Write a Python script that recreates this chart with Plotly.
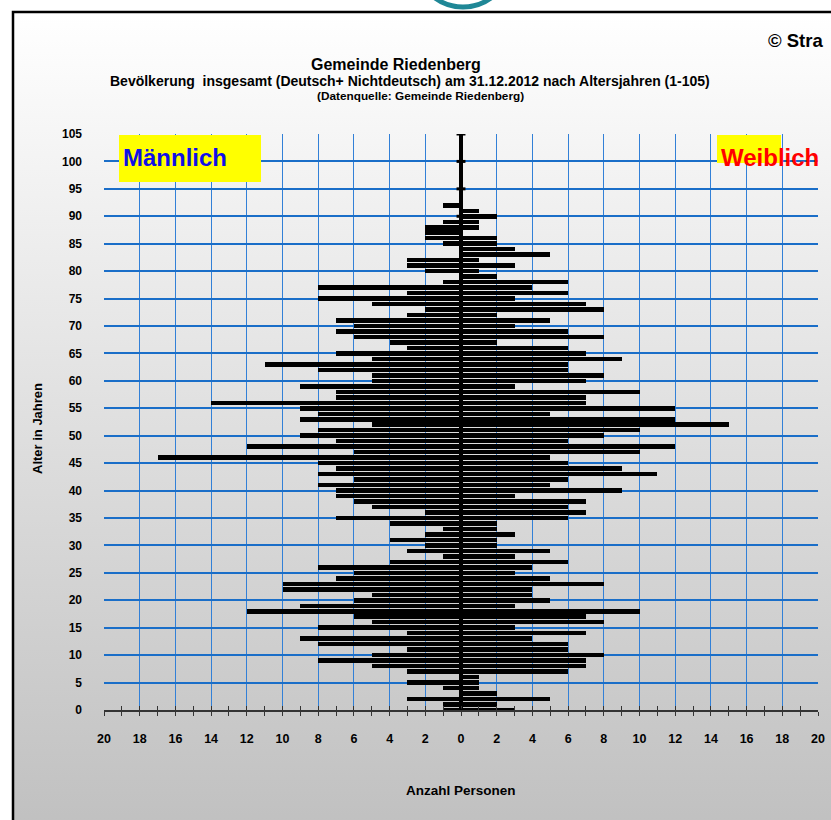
import base64
import plotly.graph_objects as go

# ---------------- data ----------------
ages = list(range(0, 93))
male = [1, 1, 3, 0, 1, 3, 0, 3, 5, 8,
        5, 3, 8, 9, 3, 8, 5, 6, 12, 9,
        6, 5, 10, 10, 7, 6, 8, 4, 1, 3,
        2, 4, 2, 1, 4, 7, 2, 5, 6, 7,
        7, 8, 6, 8, 7, 8, 17, 6, 12, 7,
        9, 8, 5, 9, 8, 9, 14, 7, 7, 9,
        5, 5, 8, 11, 5, 7, 3, 4, 6, 7,
        6, 7, 3, 2, 5, 8, 3, 8, 1, 0,
        2, 3, 3, 0, 0, 1, 2, 2, 2, 1,
        0, 0, 1]
female = [3, 2, 5, 2, 1, 1, 1, 6, 7, 7,
          8, 6, 6, 4, 7, 3, 8, 7, 10, 3,
          5, 4, 4, 8, 5, 3, 4, 6, 3, 5,
          2, 2, 3, 2, 2, 6, 7, 6, 7, 3,
          9, 5, 6, 11, 9, 6, 5, 10, 12, 6,
          8, 10, 15, 12, 5, 12, 7, 7, 10, 3,
          7, 8, 6, 6, 9, 7, 6, 2, 8, 6,
          3, 5, 2, 8, 7, 3, 6, 4, 6, 2,
          1, 3, 1, 5, 3, 2, 2, 0, 1, 1,
          2, 1, 0]
x_tick_vals = list(range(-20, 21, 2))
x_tick_text = [str(abs(v)) for v in x_tick_vals]
y_tick_vals = list(range(0, 106, 5))

title_main = "Gemeinde Riedenberg"
title_sub1 = "Bevölkerung  insgesamt (Deutsch+ Nichtdeutsch) am 31.12.2012 nach Altersjahren (1-105)"
title_sub2 = "(Datenquelle: Gemeinde Riedenberg)"

# ---------------- layout geometry ----------------
W, H = 831, 820
L, R, T, B = 104, 818, 134, 710
FONT = "Liberation Sans, Arial, Helvetica, sans-serif"
GRID_H = "rgb(26,110,200)"
GRID_V = "rgb(50,128,215)"


def px(x):
    return (x - L) / (R - L)


def py(y):
    return (B - y) / (B - T)


fig = go.Figure()
fig.add_trace(go.Bar(y=ages, x=[-m for m in male], orientation="h", width=0.82,
                     marker=dict(color="black", line=dict(width=0)), name="Männlich",
                     showlegend=False))
fig.add_trace(go.Bar(y=ages, x=female, orientation="h", width=0.82, xaxis="x2",
                     marker=dict(color="black", line=dict(width=0)), name="Weiblich",
                     showlegend=False))

# gradient background
svg = ('<svg xmlns="http://www.w3.org/2000/svg" width="100" height="100" viewBox="0 0 100 100" '
       'preserveAspectRatio="none"><defs><linearGradient id="g" x1="0" y1="0" x2="0" y2="1">'
       '<stop offset="0" stop-color="#ffffff"/><stop offset="1" stop-color="#c0c0c0"/>'
       '</linearGradient></defs><rect width="100" height="100" fill="url(#g)"/></svg>')
src = "data:image/svg+xml;base64," + base64.b64encode(svg.encode()).decode()
fig.add_layout_image(dict(source=src, xref="paper", yref="paper", x=px(13), y=py(12),
                          sizex=px(840) - px(13), sizey=py(12) - py(830), sizing="stretch",
                          xanchor="left", yanchor="top", layer="below"))

shapes = []
# frame
shapes.append(dict(type="rect", xref="paper", yref="paper", x0=px(13), x1=px(850), y0=py(12), y1=py(830),
                   line=dict(color="black", width=2.5), fillcolor="rgba(0,0,0,0)", layer="above"))
# partial teal logo ring at the top edge
shapes.append(dict(type="circle", xref="paper", yref="paper", x0=px(416), x1=px(510), y0=py(-86), y1=py(7),
                   line=dict(color="#1f8796", width=5), fillcolor="rgba(0,0,0,0)", layer="above"))
# centre-axis tick marks
for v in y_tick_vals:
    shapes.append(dict(type="line", xref="x", yref="y", x0=-0.25, x1=0.25, y0=v, y1=v,
                       line=dict(color="black", width=3), layer="above"))
# yellow label boxes
shapes.append(dict(type="rect", xref="paper", yref="paper", x0=px(119), x1=px(261), y0=py(135), y1=py(182),
                   fillcolor="#ffff00", line=dict(width=0), layer="above"))
shapes.append(dict(type="rect", xref="paper", yref="paper", x0=px(717), x1=px(781), y0=py(135), y1=py(163),
                   fillcolor="#ffff00", line=dict(width=0), layer="above"))

ann = []
ann.append(dict(text=title_main, x=px(396), y=py(65), xref="paper", yref="paper", showarrow=False,
                font=dict(family=FONT, size=16, color="black", weight="bold"), xanchor="center", yanchor="middle"))
ann.append(dict(text=title_sub1, x=px(410), y=py(81), xref="paper", yref="paper", showarrow=False,
                font=dict(family=FONT, size=14, color="black", weight="bold"), xanchor="center", yanchor="middle"))
ann.append(dict(text=title_sub2, x=px(420), y=py(96), xref="paper", yref="paper", showarrow=False,
                font=dict(family=FONT, size=11.8, color="black", weight="bold"), xanchor="center", yanchor="middle"))
ann.append(dict(text="© Stra", x=px(766), y=py(40), xref="paper", yref="paper", showarrow=False,
                font=dict(family=FONT, size=18.5, color="black", weight="bold"), xanchor="left", yanchor="middle"))
ann.append(dict(text="Männlich", x=px(121), y=py(157), xref="paper", yref="paper", showarrow=False,
                font=dict(family=FONT, size=24, color="#1010e8", weight="bold"), xanchor="left", yanchor="middle"))
ann.append(dict(text="Weiblich", x=px(719), y=py(157), xref="paper", yref="paper", showarrow=False,
                font=dict(family=FONT, size=24, color="#ff0000", weight="bold"), xanchor="left", yanchor="middle"))
ann.append(dict(text="Alter in Jahren", x=px(37), y=py(429), xref="paper", yref="paper", showarrow=False,
                textangle=-90, font=dict(family=FONT, size=13, color="black", weight="bold"),
                xanchor="center", yanchor="middle"))
ann.append(dict(text="Anzahl Personen", x=px(461), y=py(790), xref="paper", yref="paper", showarrow=False,
                font=dict(family=FONT, size=13.5, color="black", weight="bold"), xanchor="center", yanchor="middle"))

fig.update_layout(
    width=W, height=H, autosize=False,
    margin=dict(l=L, r=W - R, t=T, b=H - B, pad=0),
    paper_bgcolor="white", plot_bgcolor="rgba(0,0,0,0)",
    barmode="overlay", bargap=0,
    shapes=shapes, annotations=ann,
    xaxis=dict(range=[-20, 20], tickmode="array", tickvals=x_tick_vals, ticktext=x_tick_text,
               showgrid=True, gridcolor=GRID_V, gridwidth=1.3,
               zeroline=True, zerolinecolor="black", zerolinewidth=4,
               showline=True, linecolor="#333", linewidth=1.5,
               ticks="outside", ticklen=4, tickwidth=1.2, tickcolor="#333",
               minor=dict(tickmode="linear", tick0=0, dtick=1, ticks="outside", ticklen=4,
                          tickwidth=1.2, tickcolor="#333", showgrid=False),
               ticklabelstandoff=12, automargin=False,
               tickfont=dict(family=FONT, size=12.5, color="black", weight="bold"), fixedrange=True),
    xaxis2=dict(overlaying="x", matches="x", anchor="y", side="bottom", range=[-20, 20],
                tickmode="linear", tick0=0, dtick=2, ticks="inside", ticklen=4, tickwidth=1.2,
                tickcolor="#333", showticklabels=False, showgrid=False, zeroline=False, showline=False,
                automargin=False,
                minor=dict(tickmode="linear", tick0=0, dtick=1, ticks="inside", ticklen=4,
                           tickwidth=1.2, tickcolor="#333", showgrid=False)),
    yaxis=dict(range=[0, 105], tickmode="array", tickvals=y_tick_vals,
               showgrid=True, gridcolor=GRID_H, gridwidth=2, zeroline=False, showline=False,
               ticks="", ticklabelstandoff=21, automargin=False,
               tickfont=dict(family=FONT, size=12, color="black", weight="bold"), fixedrange=True),
)

fig.write_html("out.html", config={"displayModeBar": False, "responsive": False},
               post_script="document.body.style.margin='0px';document.body.style.overflow='hidden';")
